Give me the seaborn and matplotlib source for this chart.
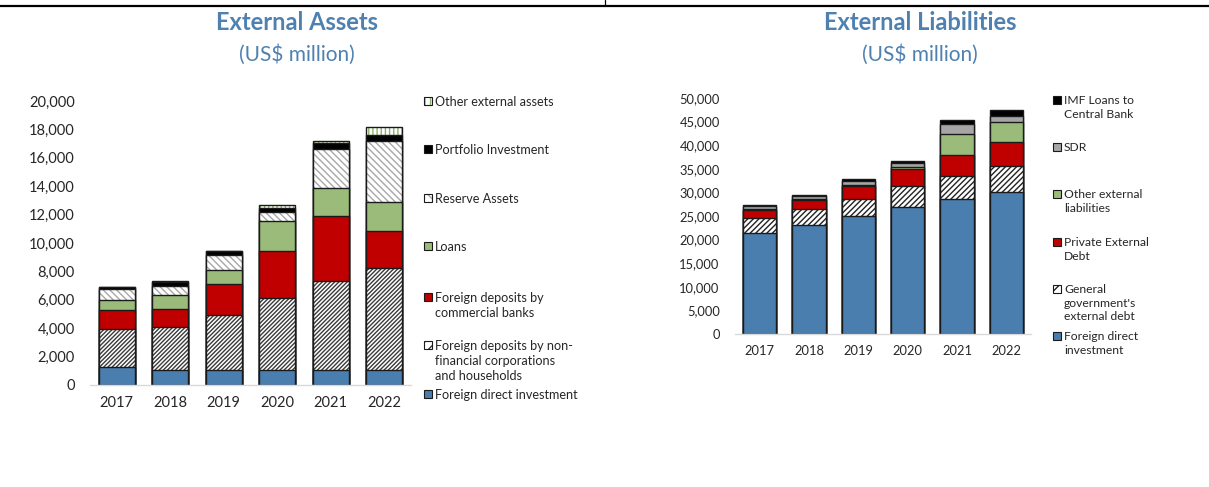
import matplotlib
matplotlib.use("Agg")
import matplotlib.pyplot as plt
from matplotlib.patches import Rectangle
from matplotlib.lines import Line2D
import numpy as np
import pandas as pd
import seaborn as sns

# ---------------- data ----------------
years = ["2017", "2018", "2019", "2020", "2021", "2022"]

# External assets (US$ million), bottom to top
asset_fdi = [1250, 1050, 1050, 1050, 1050, 1050]
asset_dep_nonfin = [2670, 3010, 3880, 5050, 6300, 7210]
asset_dep_banks = [1360, 1290, 2180, 3360, 4530, 2590]
asset_loans = [710, 990, 990, 2070, 1970, 2010]
asset_reserve = [750, 660, 1050, 630, 2750, 4350]
asset_portfolio = [140, 280, 260, 330, 420, 390]
asset_other = [40, 30, 30, 160, 160, 590]

# External liabilities (US$ million), bottom to top
liab_fdi = [21500, 23130, 24960, 27000, 28570, 29990]
liab_gov = [3180, 3320, 3610, 4260, 4810, 5510]
liab_private = [1490, 1910, 2690, 3680, 4460, 5160]
liab_other = [250, 250, 400, 350, 4520, 4180]
liab_sdr = [600, 560, 850, 900, 2120, 1410]
liab_imf = [300, 250, 400, 380, 850, 1200]

asset_labels = [
    "Foreign direct investment",
    "Foreign deposits by non-\nfinancial corporations\nand households",
    "Foreign deposits by\ncommercial banks",
    "Loans",
    "Reserve Assets",
    "Portfolio Investment",
    "Other external assets",
]
liab_labels = [
    "Foreign direct\ninvestment",
    "General\ngovernment's\nexternal debt",
    "Private External\nDebt",
    "Other external\nliabilities",
    "SDR",
    "IMF Loans to\nCentral Bank",
]

# ---------------- styles ----------------
BLUE = "#4A7EAE"
RED = "#C00000"
GREEN = "#9BBB7A"
GREY = "#A6A6A6"
TITLE = "#4F81B0"
TEXT = "#262626"

# (facecolor, hatch, hatchcolor)
asset_styles = [
    (BLUE, None, None),
    ("white", "////////", "#3A3A3A"),
    (RED, None, None),
    (GREEN, None, None),
    ("white", "\\\\\\\\\\", "#A8A8A8"),
    ("black", None, None),
    ("white", "||||", "#8DB36A"),
]
liab_styles = [
    (BLUE, None, None),
    ("white", "//////", "#222222"),
    (RED, None, None),
    (GREEN, None, None),
    (GREY, None, None),
    ("black", None, None),
]

sns.set_theme(style="white")
plt.rcParams["font.family"] = ["Lato", "DejaVu Sans"]
plt.rcParams["hatch.linewidth"] = 1.0

fig = plt.figure(figsize=(12.09, 4.87), dpi=100)
W, H = 1209, 487


def px_axes(left, bottom_y, width, top_y):
    return fig.add_axes([left / W, 1 - bottom_y / H, width / W, (bottom_y - top_y) / H])


def set_hatch_color(patch, color):
    if hasattr(patch, "set_hatchcolor"):
        patch.set_hatchcolor(color)
    else:
        patch._hatch_color = matplotlib.colors.to_rgba(color)


def stacked(ax, series, styles, width):
    cum = np.cumsum(np.array(series, dtype=float), axis=0)
    # draw tallest cumulative layer first so lower segments sit on top of it
    for i in range(len(series) - 1, -1, -1):
        fc, hatch, hc = styles[i]
        df = pd.DataFrame({"year": years, "value": cum[i]})
        n_before = len(ax.patches)
        sns.barplot(data=df, x="year", y="value", ax=ax, color=fc,
                    saturation=1, width=width, edgecolor="#1A1A1A",
                    linewidth=1.0, errorbar=None)
        for p in ax.patches[n_before:]:
            p.set_facecolor(fc)
            if hatch:
                p.set_hatch(hatch)
                set_hatch_color(p, hc)


def style_axes(ax, ymax, step, fs, pad):
    ax.set_ylim(0, ymax)
    ax.set_xlim(-0.5, 5.5)
    ax.set_yticks(np.arange(0, ymax + 1, step))
    ax.set_yticklabels([f"{int(v):,}" for v in np.arange(0, ymax + 1, step)])
    ax.set_xlabel("")
    ax.set_ylabel("")
    for s in ["left", "right", "top"]:
        ax.spines[s].set_visible(False)
    ax.spines["bottom"].set_color("#D9D9D9")
    ax.spines["bottom"].set_linewidth(1.0)
    ax.tick_params(axis="y", length=0, pad=pad, labelsize=fs, labelcolor=TEXT)
    ax.tick_params(axis="x", length=0, pad=pad * 0.7, labelsize=fs, labelcolor=TEXT)
    ax.grid(False)


def legend(x_sq, entries, styles, fs, line_px, size=8):
    # entries: list of (label, y of first text line in px)
    for (label, y), (fc, hatch, hc) in zip(entries, styles):
        r = Rectangle(((x_sq) / W, 1 - (y + size / 2) / H), size / W, size / H,
                      transform=fig.transFigure, facecolor=fc,
                      edgecolor="#1A1A1A", linewidth=0.8)
        if hatch:
            r.set_hatch(hatch[:3])
            set_hatch_color(r, hc)
        fig.add_artist(r)
        fig.text((x_sq + size + 3) / W, 1 - (y - line_px * 0.5 + 3) / H, label,
                 fontsize=fs, color=TEXT, va="top", ha="left",
                 linespacing=line_px / (fs * 100 / 72))


# ---------------- left: external assets ----------------
axL = px_axes(90, 385, 321, 101)
stacked(axL, [asset_fdi, asset_dep_nonfin, asset_dep_banks, asset_loans,
              asset_reserve, asset_portfolio, asset_other], asset_styles, 0.67)
style_axes(axL, 20000, 2000, 10.5, 11)

legend(424,
       [(asset_labels[6], 101), (asset_labels[5], 149), (asset_labels[4], 198),
        (asset_labels[3], 246), (asset_labels[2], 297), (asset_labels[1], 345),
        (asset_labels[0], 394)],
       [asset_styles[6], asset_styles[5], asset_styles[4], asset_styles[3],
        asset_styles[2], asset_styles[1], asset_styles[0]],
       9.1, 16.5)

fig.text(297 / W, 1 - 23 / H, "External Assets", fontsize=17, fontweight="bold",
         color=TITLE, ha="center", va="center")
fig.text(297 / W, 1 - 55 / H, "(US$ million)", fontsize=15, color=TITLE,
         ha="center", va="center")

# ---------------- right: external liabilities ----------------
axR = px_axes(735, 334, 296, 98)
stacked(axR, [liab_fdi, liab_gov, liab_private, liab_other, liab_sdr, liab_imf],
        liab_styles, 0.67)
style_axes(axR, 50000, 5000, 9.3, 11)

legend(1053,
       [(liab_labels[5], 100), (liab_labels[4], 147), (liab_labels[3], 194),
        (liab_labels[2], 242), (liab_labels[1], 289), (liab_labels[0], 336)],
       [liab_styles[5], liab_styles[4], liab_styles[3], liab_styles[2],
        liab_styles[1], liab_styles[0]],
       8.7, 15.5)

fig.text(920 / W, 1 - 23 / H, "External Liabilities", fontsize=17, fontweight="bold",
         color=TITLE, ha="center", va="center")
fig.text(920 / W, 1 - 55 / H, "(US$ million)", fontsize=15, color=TITLE,
         ha="center", va="center")

# frame rules along the top edge
fig.add_artist(Line2D([0, 1], [1 - 5.5 / H, 1 - 5.5 / H], transform=fig.transFigure,
                      color="black", linewidth=1.6))
fig.add_artist(Line2D([605 / W, 605 / W], [1 - 5.5 / H, 1], transform=fig.transFigure,
                      color="black", linewidth=0.9))

fig.savefig("out.png", dpi=100, facecolor="white")
